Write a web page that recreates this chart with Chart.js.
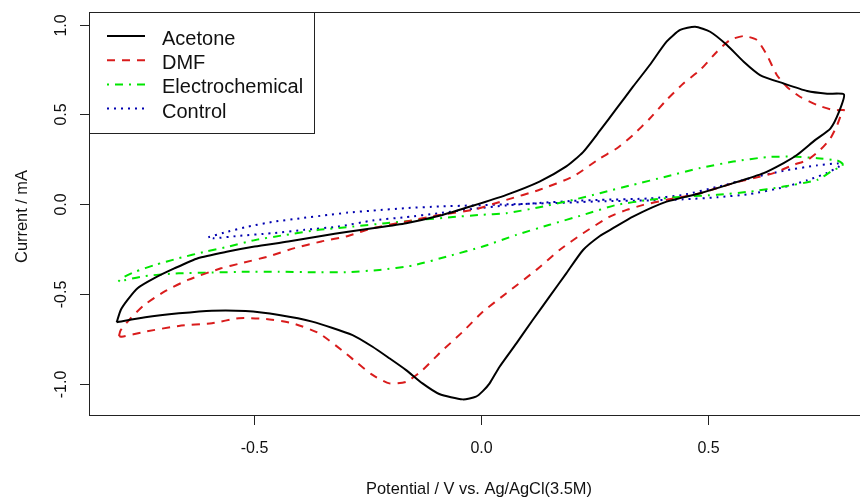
<!DOCTYPE html>
<html lang="en">
  <head>
    <meta charset="UTF-8" />
    <title>Cyclic voltammetry</title>
    <style>
      html, body { margin: 0; padding: 0; background: #fff; overflow: hidden; }
      canvas { display: block; }
    </style>
  </head>
  <body>
    <canvas id="cvChart" width="876" height="497"></canvas>

    <script src="https://cdn.jsdelivr.net/npm/chart.js"></script>

    <script>
      // axis ranges and ticks
      const xMin = -0.864, xMax = 0.864;
      const yMin = -1.174, yMax = 1.07;
      const xTicks = [-0.5, 0, 0.5];
      const xTickLabels = ["-0.5", "0.0", "0.5"];
      const yTicks = [-1, -0.5, 0, 0.5, 1];
      const yTickLabels = ["-1.0", "-0.5", "0.0", "0.5", "1.0"];
      const xTitle = "Potential / V vs. Ag/AgCl(3.5M)";
      const yTitle = "Current / mA";

      const seriesNames = ["Acetone", "DMF", "Electrochemical", "Control"];

      // Acetone: forward sweep then reverse
      const acetoneV = [-0.803,-0.794,-0.779,-0.757,-0.720,-0.676,-0.624,-0.558,-0.499,-0.425,
        -0.352,-0.293,-0.239,-0.165,-0.092,-0.018,0.056,0.129,0.188,0.225,
        0.262,0.299,0.335,0.372,0.409,0.439,0.472,0.505,0.542,0.579,
        0.615,0.667,0.719,0.763,0.800,
        0.789,0.770,0.737,0.697,0.667,0.623,0.556,0.483,0.409,0.335,
        0.291,0.262,0.225,0.188,0.151,0.114,0.078,0.041,0.019,0.004,
        -0.011,-0.040,-0.092,-0.129,-0.165,-0.202,-0.239,-0.283,-0.372,-0.445,
        -0.519,-0.593,-0.666,-0.740,-0.803];
      const acetoneI = [-0.658,-0.589,-0.533,-0.468,-0.412,-0.358,-0.301,-0.264,-0.236,-0.208,
        -0.177,-0.153,-0.134,-0.106,-0.065,-0.009,0.052,0.126,0.210,0.290,
        0.409,0.533,0.654,0.775,0.905,0.970,0.988,0.960,0.886,0.793,
        0.719,0.672,0.630,0.615,0.611,
        0.514,0.421,0.358,0.275,0.229,0.173,0.117,0.061,0.014,-0.069,
        -0.134,-0.177,-0.255,-0.385,-0.515,-0.645,-0.775,-0.905,-0.998,-1.041,
        -1.072,-1.087,-1.057,-0.998,-0.924,-0.858,-0.794,-0.729,-0.654,-0.617,
        -0.595,-0.593,-0.608,-0.630,-0.658];

      const dmfV = [-0.798,-0.794,-0.772,-0.742,-0.698,-0.646,-0.573,-0.529,-0.470,-0.411,
        -0.352,-0.293,-0.239,-0.165,-0.092,-0.018,0.056,0.129,0.203,0.262,
        0.299,0.335,0.372,0.409,0.446,0.483,0.520,0.549,0.579,0.608,
        0.630,0.652,0.674,0.703,0.741,0.777,0.800,
        0.796,0.785,0.770,0.748,0.719,0.689,0.645,0.601,0.556,0.483,
        0.409,0.358,0.321,0.284,0.225,0.173,0.122,0.056,0.004,-0.040,
        -0.092,-0.129,-0.165,-0.202,-0.239,-0.276,-0.298,-0.357,-0.416,-0.475,
        -0.534,-0.593,-0.666,-0.740,-0.792,-0.798];
      const dmfI = [-0.734,-0.701,-0.635,-0.561,-0.487,-0.422,-0.357,-0.329,-0.292,-0.245,
        -0.208,-0.177,-0.134,-0.097,-0.060,-0.032,0.024,0.080,0.154,0.255,
        0.310,0.385,0.477,0.580,0.672,0.747,0.849,0.914,0.936,0.914,
        0.831,0.719,0.654,0.598,0.552,0.524,0.524,
        0.514,0.440,0.366,0.303,0.245,0.219,0.173,0.145,0.117,0.061,
        0.024,-0.004,-0.032,-0.069,-0.162,-0.255,-0.366,-0.496,-0.599,-0.710,
        -0.831,-0.924,-0.989,-0.998,-0.951,-0.877,-0.831,-0.719,-0.663,-0.639,
        -0.635,-0.663,-0.678,-0.710,-0.738,-0.734];

      const electroV = [-0.799,-0.792,-0.762,-0.718,-0.666,-0.607,-0.556,-0.497,-0.430,-0.357,
        -0.283,-0.210,-0.136,-0.062,-0.003,0.056,0.129,0.203,0.262,0.335,
        0.409,0.483,0.556,0.630,0.689,0.741,0.785,0.797,
        0.796,0.777,0.741,0.667,0.593,0.520,0.446,0.372,0.299,0.225,
        0.151,0.078,0.004,-0.070,-0.151,-0.224,-0.298,-0.372,-0.445,-0.519,
        -0.593,-0.666,-0.740,-0.799];
      const electroI = [-0.431,-0.412,-0.376,-0.338,-0.301,-0.264,-0.236,-0.199,-0.171,-0.143,
        -0.125,-0.106,-0.088,-0.072,-0.060,-0.050,-0.017,0.024,0.061,0.108,
        0.154,0.201,0.237,0.262,0.265,0.256,0.243,0.225,
        0.210,0.191,0.135,0.098,0.070,0.052,0.042,0.024,-0.004,-0.060,
        -0.115,-0.171,-0.236,-0.288,-0.342,-0.366,-0.379,-0.379,-0.376,-0.376,
        -0.381,-0.385,-0.400,-0.431];

      const controlV = [-0.601,-0.558,-0.514,-0.455,-0.396,-0.337,-0.293,-0.239,-0.165,-0.092,
        -0.018,0.056,0.129,0.203,0.262,0.372,0.446,0.520,0.593,0.667,
        0.719,0.763,0.788,0.794,
        0.785,0.741,0.667,0.593,0.520,0.446,0.372,0.262,0.203,0.129,
        0.056,-0.018,-0.092,-0.165,-0.239,-0.315,-0.389,-0.462,-0.536,-0.589,
        -0.601];
      const controlI = [-0.184,-0.153,-0.125,-0.097,-0.078,-0.060,-0.047,-0.036,-0.022,-0.013,
        -0.007,-0.001,0.004,0.010,0.016,0.021,0.027,0.038,0.057,0.094,
        0.133,0.174,0.208,0.222,
        0.227,0.216,0.186,0.144,0.096,0.052,0.032,0.024,0.018,0.007,
        -0.007,-0.026,-0.050,-0.072,-0.091,-0.125,-0.143,-0.162,-0.177,-0.190,
        -0.184];

      function pts(vs, is) {
        return vs.map((v, i) => ({ x: v, y: is[i] }));
      }

      const FONT = '"Liberation Sans", Arial, sans-serif';

      // R style box, axes, titles and legend
      const rStyle = {
        id: "rStyle",
        afterDatasetsDraw(chart) {
          const c = chart.ctx;
          const a = chart.chartArea;
          const xs = chart.scales.x, ys = chart.scales.y;
          c.save();
          c.strokeStyle = "#222";
          c.lineWidth = 1;
          c.strokeRect(Math.round(a.left) + 0.5, Math.round(a.top) + 0.5,
            a.right - a.left, Math.round(a.bottom) - Math.round(a.top));

          c.fillStyle = "#111";
          c.font = "16px " + FONT;
          // x axis
          c.textAlign = "center";
          c.textBaseline = "alphabetic";
          xTicks.forEach((t, i) => {
            const px = Math.round(xs.getPixelForValue(t)) + 0.5;
            c.beginPath();
            c.moveTo(px, a.bottom);
            c.lineTo(px, a.bottom + 10);
            c.stroke();
            c.fillText(xTickLabels[i], px, 453);
          });
          // y axis
          yTicks.forEach((t, i) => {
            const py = Math.round(ys.getPixelForValue(t)) + 0.5;
            c.beginPath();
            c.moveTo(a.left, py);
            c.lineTo(a.left - 9, py);
            c.stroke();
            c.save();
            c.translate(66, py);
            c.rotate(-Math.PI / 2);
            c.fillText(yTickLabels[i], 0, 0);
            c.restore();
          });
          c.font = "16.4px " + FONT;
          c.fillText(xTitle, 479, 494);
          c.save();
          c.translate(27, (a.top + a.bottom) / 2 + 3);
          c.rotate(-Math.PI / 2);
          c.fillText(yTitle, 0, 0);
          c.restore();

          // legend
          c.fillStyle = "#fff";
          c.fillRect(89.5, 12.5, 225, 121);
          c.strokeStyle = "#222";
          c.strokeRect(89.5, 12.5, 225, 121);
          c.font = "20px " + FONT;
          c.textAlign = "left";
          chart.data.datasets.forEach((ds, i) => {
            const ly = 36 + i * 24.2;
            c.save();
            c.strokeStyle = ds.borderColor;
            c.lineWidth = ds.borderWidth;
            c.setLineDash(ds.borderDash || []);
            c.beginPath();
            c.moveTo(107, ly);
            c.lineTo(145, ly);
            c.stroke();
            c.restore();
            c.fillStyle = "#111";
            c.fillText(ds.label, 162, ly + 9);
          });
          c.restore();
        },
      };

      const chart = new Chart(document.getElementById("cvChart"), {
        type: "scatter",
        data: {
          datasets: [
            { label: seriesNames[0], data: pts(acetoneV, acetoneI), borderColor: "#000000", borderWidth: 2, borderDash: [] },
            { label: seriesNames[1], data: pts(dmfV, dmfI), borderColor: "#d91c1c", borderWidth: 2, borderDash: [8, 7] },
            { label: seriesNames[2], data: pts(electroV, electroI), borderColor: "#00e600", borderWidth: 2, borderDash: [2, 6, 8, 6] },
            { label: seriesNames[3], data: pts(controlV, controlI), borderColor: "#0000b0", borderWidth: 2, borderDash: [2, 5] },
          ],
        },
        options: {
          responsive: false,
          animation: false,
          showLine: true,
          layout: { padding: { left: 89, top: 12, right: 3, bottom: 82 } },
          elements: {
            point: { radius: 0, hoverRadius: 0 },
            line: { tension: 0.2, fill: false },
          },
          scales: {
            x: { type: "linear", min: xMin, max: xMax, display: false },
            y: { type: "linear", min: yMin, max: yMax, display: false },
          },
          plugins: {
            legend: { display: false },
            tooltip: { enabled: false },
          },
        },
        plugins: [rStyle],
      });
    </script>
  </body>
</html>
